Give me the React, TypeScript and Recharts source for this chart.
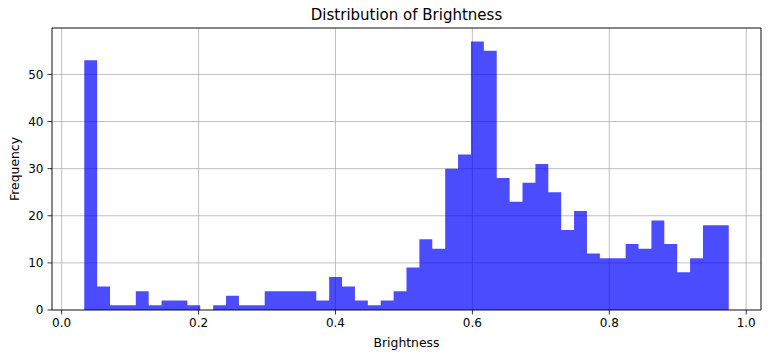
import React from 'react';
import { ComposedChart, Area, XAxis, YAxis, CartesianGrid, ReferenceLine } from 'recharts';

// Histogram of brightness: 50 equal-width bins
const binStart = 0.033;
const binWidth = 0.01883;
const counts = [
  53, 5, 1, 1, 4, 1, 2, 2, 1, 0,
  1, 3, 1, 1, 4, 4, 4, 4, 2, 7,
  5, 2, 1, 2, 4, 9, 15, 13, 30, 33,
  57, 55, 28, 23, 27, 31, 25, 17, 21, 12,
  11, 11, 14, 13, 19, 14, 8, 11, 18, 18,
];
const xTicks = [0, 0.2, 0.4, 0.6, 0.8, 1.0];
const yTicks = [0, 10, 20, 30, 40, 50];
const xDomain: [number, number] = [-0.0141, 1.0216];
const yMax = 59.85;

const title = 'Distribution of Brightness';
const xLabel = 'Brightness';
const yLabel = 'Frequency';

const data = Array.from({ length: counts.length + 1 }, (_, i) => ({
  x: binStart + i * binWidth,
  y: counts[Math.min(i, counts.length - 1)],
}));

const FONT = '"DejaVu Sans", sans-serif';

const YLabel = (props: any) => {
  const vb = props.viewBox || { x: 0, y: 0, width: 0, height: 0 };
  const cx = vb.x + 14;
  const cy = vb.y + vb.height / 2;
  return (
    <text
      x={cx}
      y={cy}
      transform={`rotate(-90, ${cx}, ${cy})`}
      textAnchor="middle"
      dominantBaseline="central"
      fontSize={12.4}
      fontFamily={FONT}
      fill="#000"
    >
      {yLabel}
    </text>
  );
};

const XLabel = (props: any) => {
  const vb = props.viewBox || { x: 0, y: 0, width: 0, height: 0 };
  const cx = vb.x + vb.width / 2;
  return (
    <text
      x={cx}
      y={342}
      textAnchor="middle"
      dominantBaseline="central"
      fontSize={12.4}
      fontFamily={FONT}
      fill="#000"
    >
      {xLabel}
    </text>
  );
};

export default function App() {
  return (
    <div style={{ position: 'absolute', left: 0, top: 0, width: 768, height: 356, background: '#fff', fontFamily: FONT }}>
      <div
        style={{
          position: 'absolute',
          left: 52,
          top: 6,
          width: 709,
          textAlign: 'center',
          fontSize: 15,
          lineHeight: '18px',
          color: '#000',
          fontFamily: FONT,
        }}
      >
        {title}
      </div>
      <ComposedChart
        width={768}
        height={356}
        data={data}
        margin={{ top: 28, right: 7, left: 0, bottom: 0 }}
      >
        <Area
          type="stepAfter"
          dataKey="y"
          fill="#0000ff"
          fillOpacity={0.7}
          stroke="none"
          dot={false}
          activeDot={false}
          isAnimationActive={false}
          baseValue={0}
        />
        <CartesianGrid stroke="#b0b0b0" strokeWidth={0.8} />
        <XAxis
          dataKey="x"
          type="number"
          domain={xDomain}
          ticks={xTicks}
          allowDataOverflow
          height={46}
          tickFormatter={(v: number) => v.toFixed(1)}
          tick={{ fill: '#000', fontSize: 12, fontFamily: FONT }}
          tickLine={{ stroke: '#000', strokeWidth: 0.8 }}
          axisLine={{ stroke: '#000', strokeWidth: 0.8 }}
          tickSize={4.5}
          tickMargin={4}
          label={{ content: <XLabel /> }}
        />
        <YAxis
          type="number"
          domain={[0, yMax]}
          ticks={yTicks}
          allowDataOverflow
          width={52}
          tick={{ fill: '#000', fontSize: 12, fontFamily: FONT }}
          tickLine={{ stroke: '#000', strokeWidth: 0.8 }}
          axisLine={{ stroke: '#000', strokeWidth: 0.8 }}
          tickSize={4.5}
          tickMargin={4}
          label={{ content: <YLabel /> }}
        />
        <ReferenceLine y={yMax} stroke="#000" strokeWidth={0.8} ifOverflow="visible" />
        <ReferenceLine x={xDomain[1]} stroke="#000" strokeWidth={0.8} ifOverflow="visible" />
      </ComposedChart>
    </div>
  );
}
